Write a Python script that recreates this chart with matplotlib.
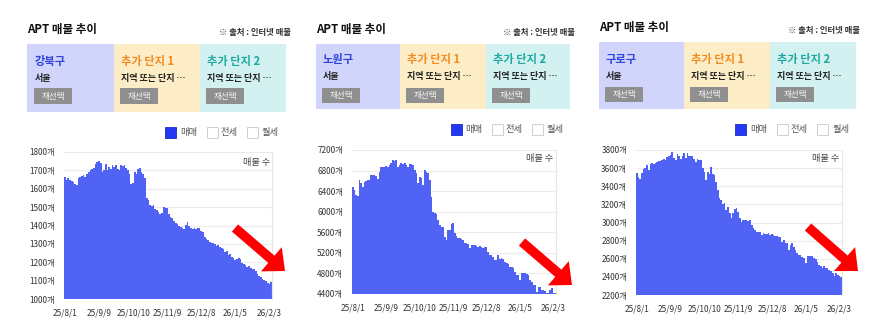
import numpy as np
import matplotlib
matplotlib.use('Agg')
import matplotlib.pyplot as plt
from matplotlib.patches import Rectangle, FancyArrow

plt.rcParams['font.family'] = ['Noto Sans CJK KR', 'DejaVu Sans']

# x tick labels, one every 20 points
date_labels = ['25/8/1', '25/9/9', '25/10/10', '25/11/9', '25/12/8', '26/1/5', '26/2/3']
label_step = 20

# listing counts
gangbuk = [1665, 1650, 1660, 1645, 1640, 1635, 1625, 1620, 1660, 1665,
           1670, 1675, 1665, 1680, 1690, 1700, 1705, 1715, 1735, 1745,
           1750, 1740, 1690, 1700, 1735, 1700, 1720, 1710, 1730, 1720,
           1730, 1710, 1700, 1730, 1725, 1730, 1715, 1700, 1680, 1625,
           1630, 1690, 1680, 1710, 1715, 1690, 1680, 1660, 1550, 1540,
           1510, 1505, 1510, 1490, 1485, 1475, 1465, 1470, 1500, 1495,
           1495, 1465, 1445, 1440, 1425, 1415, 1410, 1395, 1390, 1385,
           1380, 1405, 1420, 1400, 1385, 1380, 1385, 1380, 1385, 1385,
           1370, 1365, 1340, 1325, 1320, 1310, 1305, 1305, 1300, 1290,
           1295, 1285, 1280, 1270, 1255, 1260, 1240, 1245, 1230, 1225,
           1210, 1215, 1225, 1215, 1195, 1190, 1185, 1175, 1180, 1170,
           1165, 1165, 1150, 1135, 1125, 1120, 1110, 1105, 1100, 1085,
           1080, 1095]

nowon = [6485, 6420, 6330, 6300, 6615, 6550, 6490, 6580, 6590, 6615,
         6620, 6710, 6705, 6715, 6700, 6630, 6775, 6870, 6875, 6860,
         6880, 6870, 6905, 6940, 7000, 6990, 7000, 6875, 6905, 6940,
         6930, 6940, 6900, 6875, 6920, 6930, 6915, 6810, 6745, 6550,
         6680, 6650, 6520, 6810, 6780, 6760, 6620, 6290, 6000, 5970,
         5950, 5840, 5740, 5710, 5700, 5515, 5450, 5645, 5650, 5770,
         5780, 5580, 5520, 5480, 5490, 5470, 5450, 5390, 5385, 5380,
         5290, 5350, 5345, 5350, 5340, 5320, 5325, 5310, 5290, 5320,
         5315, 5220, 5165, 5155, 5110, 5060, 5055, 5160, 5090, 5095,
         5085, 5030, 4995, 4990, 4930, 4925, 4900, 4835, 4770, 4765,
         4670, 4800, 4805, 4800, 4795, 4770, 4670, 4640, 4580, 4570,
         4445, 4540, 4535, 4480, 4475, 4450, 4415, 4420, 4480, 4510,
         4425, 4420]

guro = [3545, 3505, 3475, 3545, 3590, 3600, 3635, 3580, 3650, 3655,
        3650, 3660, 3670, 3680, 3680, 3690, 3705, 3690, 3725, 3735,
        3745, 3780, 3715, 3695, 3760, 3735, 3700, 3730, 3765, 3715,
        3770, 3735, 3730, 3735, 3700, 3670, 3705, 3690, 3690, 3600,
        3560, 3470, 3560, 3530, 3615, 3540, 3525, 3450, 3360, 3270,
        3250, 3200, 3215, 3140, 3175, 3105, 3050, 3110, 3150, 3155,
        3120, 3045, 3010, 3030, 3030, 3025, 3015, 3025, 2975, 2935,
        2920, 2900, 2900, 2895, 2865, 2885, 2870, 2870, 2885, 2865,
        2875, 2865, 2850, 2850, 2845, 2845, 2790, 2805, 2770, 2770,
        2700, 2755, 2770, 2735, 2700, 2665, 2645, 2645, 2615, 2605,
        2555, 2630, 2635, 2625, 2625, 2610, 2595, 2560, 2535, 2515,
        2500, 2515, 2495, 2495, 2475, 2460, 2445, 2405, 2440, 2420,
        2405, 2395]

districts = ['강북구', '노원구', '구로구']
series = [gangbuk, nowon, guro]
y_ranges = [(1000, 1800, 100), (4400, 7200, 400), (2200, 3800, 200)]

BAR = '#5163f4'
BOX_COLORS = ['#d2d5fb', '#fdedc7', '#d4f1f1']
HEAD_COLORS = ['#2f45dc', '#f28a1e', '#1ca9a1']

W, H = 882, 335

# layout of each panel in pixels
layout = [
    dict(title=(27, 29), src=(291, 32), box=(27, 44, 286, 112), div=(114, 200),
         tx=(35, 121, 207), head_y=61, sub_y=79, btn=(88, 104),
         leg_y=132, leg_x=(165, 180, 207, 220, 247, 262),
         ax=(64, 152, 272, 299), lab=(270, 162), arrow=((235, 228), (285, 271))),
    dict(title=(316, 29), src=(575, 32), box=(316, 44, 570, 109), div=(400, 486),
         tx=(323, 407, 493), head_y=60, sub_y=76, btn=(88, 103),
         leg_y=129.5, leg_x=(451, 465, 492, 505, 532, 547),
         ax=(352, 150, 556, 294), lab=(553, 159), arrow=((522, 242), (572, 285))),
    dict(title=(599, 27), src=(860, 30), box=(599, 42, 856, 109), div=(684, 770),
         tx=(606, 691, 777), head_y=59, sub_y=76, btn=(87, 102),
         leg_y=129.5, leg_x=(735, 750, 777, 790, 817, 833),
         ax=(636, 150, 842, 295), lab=(839, 159), arrow=((808, 227), (858, 271))),
]

fig = plt.figure(figsize=(W / 100, H / 100), dpi=100)
fig.patch.set_facecolor('white')


def draw_chart(ax, vals, ymin, ymax, ystep):
    n = len(vals)
    ax.stairs(vals, np.arange(n + 1) - 0.5, baseline=ymin, fill=True,
              color=BAR, linewidth=0)
    ax.set_xlim(-0.5, n - 0.5)
    ax.set_ylim(ymin, ymax)
    yt = np.arange(ymin, ymax + 1, ystep)
    ax.set_yticks(yt)
    ax.set_yticklabels([f'{v}개' for v in yt])
    ax.set_xticks(np.arange(0, n, label_step)[:len(date_labels)])
    ax.set_xticklabels(date_labels)
    ax.tick_params(length=0, labelsize=5.9, colors='#333333')
    ax.tick_params(axis='x', pad=7)
    ax.tick_params(axis='y', pad=6.5)
    ax.grid(axis='y', color='#ececec', lw=0.8)
    ax.set_axisbelow(True)
    for s in ['left', 'top', 'bottom']:
        ax.spines[s].set_visible(False)
    ax.spines['right'].set_color('#e6e6e6')
    ax.spines['right'].set_linewidth(0.8)


for name, vals, (ymin, ymax, ystep), L in zip(districts, series, y_ranges, layout):
    x0, y0, x1, y1 = L['ax']
    ax = fig.add_axes([x0 / W, 1 - y1 / H, (x1 - x0) / W, (y1 - y0) / H])
    draw_chart(ax, vals, ymin, ymax, ystep)

# overlay in pixel coordinates for header, legend and arrows
ov = fig.add_axes([0, 0, 1, 1], zorder=10)
ov.set_xlim(0, W)
ov.set_ylim(H, 0)
ov.axis('off')

for name, L in zip(districts, layout):
    tx, ty = L['title']
    ov.text(tx, ty, 'APT 매물 추이', fontsize=8.3, fontweight='bold',
            color='#111111', va='center', ha='left')
    sx, sy = L['src']
    ov.text(sx, sy, '※ 출처 : 인터넷 매물', fontsize=6, fontweight='bold',
            color='#333333', va='center', ha='right')

    bx0, by0, bx1, by1 = L['box']
    edges = [bx0, L['div'][0], L['div'][1], bx1]
    heads = [name, '추가 단지 1', '추가 단지 2']
    subs = ['서울', '지역 또는 단지 …', '지역 또는 단지 …']
    for k in range(3):
        ov.add_patch(Rectangle((edges[k], by0), edges[k + 1] - edges[k], by1 - by0,
                               facecolor=BOX_COLORS[k], edgecolor='none'))
        x = L['tx'][k]
        ov.text(x, L['head_y'], heads[k], fontsize=8.1, fontweight='bold',
                color=HEAD_COLORS[k], va='center', ha='left')
        ov.text(x, L['sub_y'], subs[k], fontsize=6.5, fontweight='bold',
                color='#222222', va='center', ha='left')
        b0, b1 = L['btn']
        ov.add_patch(Rectangle((x - 1, b0), 38, b1 - b0, facecolor='#8f8f8f',
                               edgecolor='none'))
        ov.text(x + 18, (b0 + b1) / 2, '재선택', fontsize=6.2, color='#f2f2f2',
                va='center', ha='center')

    # legend checkboxes
    ly = L['leg_y']
    q1, t1, q2, t2, q3, t3 = L['leg_x']
    ov.add_patch(Rectangle((q1, ly - 5.5), 11, 11, facecolor='#2437f2',
                           edgecolor='#1a2bc8', lw=0.6))
    for q in (q2, q3):
        ov.add_patch(Rectangle((q, ly - 5.5), 11, 11, facecolor='white',
                               edgecolor='#c8c8c8', lw=0.6))
    for t, s in zip((t1, t2, t3), ('매매', '전세', '월세')):
        ov.text(t, ly, s, fontsize=6.7, color='#555555', va='center', ha='left')

    lx, lyy = L['lab']
    ov.text(lx, lyy, '매물 수', fontsize=6.6, color='#444444', va='center', ha='right')

    (ax0, ay0), (ax1, ay1) = L['arrow']
    ov.add_patch(FancyArrow(ax0, ay0, ax1 - ax0, ay1 - ay0, width=9.5,
                            head_width=32, head_length=18,
                            length_includes_head=True, color='#ff0000', lw=0))

fig.savefig('out.png', dpi=100)
